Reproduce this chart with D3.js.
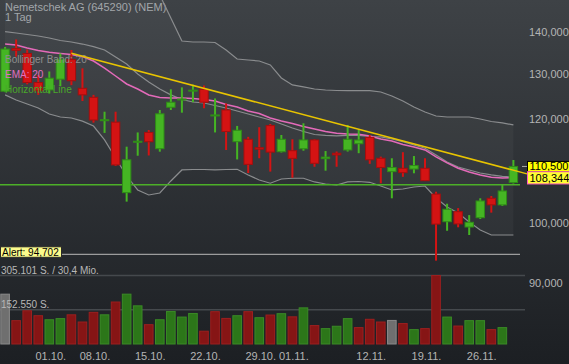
<!DOCTYPE html>
<html><head><meta charset="utf-8">
<script src="https://cdn.jsdelivr.net/npm/d3@7"></script>
<style>html,body{margin:0;padding:0;background:#2b2e32;overflow:hidden}svg{display:block}</style>
</head><body><svg id="c" width="569" height="364"></svg>
<script>
const dates = ["25.09.","26.09.","27.09.","28.09.","01.10.","02.10.","04.10.","05.10.","08.10.","09.10.","10.10.","11.10.","12.10.","15.10.","16.10.","17.10.","18.10.","19.10.","22.10.","23.10.","24.10.","25.10.","26.10.","29.10.","30.10.","31.10.","01.11.","02.11.","05.11.","06.11.","07.11.","08.11.","09.11.","12.11.","13.11.","14.11.","15.11.","16.11.","19.11.","20.11.","21.11.","22.11.","23.11.","26.11.","27.11.","28.11.","29.11."];
const open = [126.10,135.90,134.75,128.05,126.38,128.80,133.30,126.75,124.76,119.80,119.44,105.53,115.35,117.30,114.00,122.60,124.20,126.15,126.53,120.75,122.02,115.41,115.90,114.20,118.72,113.40,113.60,113.99,115.76,112.02,113.10,113.74,115.00,116.30,112.10,109.50,110.14,110.00,110.14,105.27,100.28,102.07,99.35,100.99,104.49,103.29,107.42];
const high = [136.30,138.10,135.70,129.75,130.56,134.75,135.57,131.28,125.30,121.65,121.65,114.40,117.30,117.80,122.02,126.53,126.96,127.58,127.36,124.52,123.44,118.65,116.40,118.38,119.06,116.77,115.90,119.20,115.90,113.53,113.43,118.85,117.81,116.77,112.42,112.10,113.30,112.54,112.10,105.70,103.50,102.70,101.45,104.49,104.91,106.95,111.76];
const low = [125.90,134.00,127.65,125.30,125.60,127.20,127.46,123.96,119.33,117.20,110.60,103.88,112.60,112.65,113.40,122.02,121.44,123.70,122.40,117.30,113.74,111.87,109.23,112.10,109.50,113.24,108.33,113.60,110.44,109.68,110.44,113.43,113.10,111.00,107.28,104.49,108.50,109.18,107.70,93.65,98.70,99.30,97.97,100.76,101.89,103.11,107.23];
const close = [135.80,135.50,128.05,126.22,129.03,133.38,128.45,125.30,119.89,119.95,110.80,111.80,115.50,115.40,121.20,123.69,124.40,126.35,123.70,120.96,117.50,117.75,110.90,113.90,113.32,115.90,112.08,115.76,111.11,112.33,112.76,115.90,115.75,111.80,110.30,110.30,109.30,110.68,107.77,99.86,102.50,99.89,100.18,104.00,103.29,105.84,110.50];
const volume = [222000,104000,148000,126000,108000,113000,130000,98000,141000,130000,187000,222000,170000,86000,108000,145000,120000,136000,57000,144000,114000,126000,144000,117000,129000,135000,121000,161000,82000,68500,79000,113000,73000,110000,98000,105000,91000,64000,68500,305101,120000,80000,104000,104000,64000,73000,null];
const bbUpper = [154.70,155.18,155.31,155.45,155.76,155.18,154.67,154.34,154.16,155.39,155.65,155.90,153.93,151.24,149.32,143.41,137.73,137.49,137.49,137.37,135.57,133.44,133.21,132.98,132.06,129.07,127.51,127.06,126.60,126.38,126.27,126.22,126.22,126.22,125.94,125.05,123.96,122.66,121.59,120.73,120.52,120.52,120.52,120.10,119.58,119.27,118.85];
const bbMiddle = [140.00,139.68,139.31,138.95,138.46,137.85,137.49,137.00,136.39,135.57,133.90,132.28,129.98,128.17,126.60,125.30,124.29,123.74,123.53,122.99,122.45,121.80,121.16,120.52,119.89,119.05,118.22,117.50,116.88,116.68,116.58,116.68,116.68,116.47,116.37,115.96,115.41,114.74,114.08,112.75,111.37,110.40,109.82,109.24,108.86,108.58,108.43];
const bbLower = [125.30,124.18,123.31,122.45,121.16,120.52,120.31,119.66,118.62,115.76,112.15,108.66,106.03,105.10,105.47,107.72,109.82,109.91,109.91,109.82,109.91,109.95,108.86,107.91,107.29,108.09,108.23,108.23,107.53,107.15,106.96,107.53,107.62,107.47,106.77,106.03,106.21,106.58,106.77,104.55,102.90,101.83,100.24,98.84,97.97,97.97,97.97];
const ema20 = [137.00,136.76,136.04,135.45,135.03,134.75,134.51,134.00,132.98,131.35,129.52,127.72,126.60,125.28,124.73,124.62,124.62,124.51,124.29,123.96,123.20,122.66,121.80,121.27,120.31,119.68,119.16,118.54,118.02,117.50,117.13,116.99,116.93,116.58,115.96,115.55,114.84,114.34,113.74,112.36,111.18,110.15,109.43,108.86,108.42,108.29,108.344];
const trendDates = ["04.10.","29.11."];
const trendValues = [134.80,109.76];
const horizontalValue = 107.0;
const alertValue = 94.702;
const priceTicks = [90,100,120,130,140];
const dateTicks = ["01.10.","08.10.","15.10.","22.10.","29.10.","01.11.","12.11.","19.11.","26.11."];
const volLabels = ["305.101 S. / 30,4 Mio.","152.550 S."];
const volLevels = [305101,152550];
const title = "Nemetschek AG (645290) (NEM)";
const subtitle = "1 Tag";
const legendItems = ["Bollinger Band: 20","EMA: 20","Horizontal Line"];

const de=d3.formatLocale({decimal:",",thousands:".",grouping:[3],currency:["","€"]});
const fmt=de.format(".3f");
const W=569,H=364, FONT="Liberation Sans, Arial, sans-serif";
const svg=d3.select("#c");
const defs=svg.append("defs");
const g=defs.append("linearGradient").attr("id","bg").attr("x1",0).attr("y1",0).attr("x2",0).attr("y2",1);
g.append("stop").attr("offset","0%").attr("stop-color","#3e4246");
g.append("stop").attr("offset","100%").attr("stop-color","#1c1f23");
svg.append("rect").attr("width",W).attr("height",H).attr("fill","url(#bg)");

const x=d3.scalePoint().domain(dates).range([5.1,513.4]);
const y=d3.scaleLog().domain([90,140]).range([283.3,31.7]);
const yv=d3.scaleLinear().domain([0,305101]).range([344,275.5]);
const idx=d3.range(dates.length);
const X=i=>x(dates[i]);

// bollinger fill
svg.append("path").datum(idx)
  .attr("d",d3.area().x(X).y0(i=>y(bbLower[i])).y1(i=>y(bbUpper[i])))
  .attr("fill","rgba(255,255,255,0.035)");

// volume grid lines
svg.selectAll(".vg").data(volLevels).join("line")
  .attr("x1",0).attr("x2",525).attr("y1",d=>yv(d)).attr("y2",d=>yv(d))
  .attr("stroke","#45494d").attr("stroke-width",1.5);

// title
svg.append("text").attr("x",5).attr("y",10.5).attr("fill","#a2a6aa").attr("font-family",FONT).attr("font-size",11).text(title);
svg.append("text").attr("x",5).attr("y",21).attr("fill","#a2a6aa").attr("font-family",FONT).attr("font-size",11).text(subtitle);

// volume bars
const volColor=i=> i===0||close[i]===close[i-1] ? ["#6f6f6f","#8a8a8a"] : close[i]>close[i-1] ? ["#2c7619","#3a8a26"] : ["#861515","#9c1f1f"];
svg.selectAll(".vb").data(idx.filter(i=>volume[i]!=null)).join("rect")
  .attr("x",i=>X(i)-4.3).attr("width",8.6)
  .attr("y",i=>yv(volume[i])).attr("height",i=>344-yv(volume[i]))
  .attr("fill",i=>volColor(i)[0]).attr("stroke",i=>volColor(i)[1]).attr("stroke-width",1);

// volume labels
svg.selectAll(".vl").data(volLevels).join("text")
  .attr("x",1).attr("y",d=>yv(d)-2).attr("fill","#b8b8b8")
  .attr("font-family",FONT).attr("font-size",10).text((d,i)=>volLabels[i]);

// bands and ema
const line=arr=>d3.line().x(X).y(i=>y(arr[i]));
[bbUpper,bbMiddle,bbLower].forEach(a=>{
  svg.append("path").datum(idx).attr("d",line(a)).attr("fill","none").attr("stroke","#8a8c8e").attr("stroke-width",1.2);
});
svg.append("path").datum(idx).attr("d",line(ema20)).attr("fill","none").attr("stroke","#e36ab9").attr("stroke-width",1.5);

// horizontal line & alert
svg.append("line").attr("x1",0).attr("x2",520).attr("y1",y(horizontalValue)).attr("y2",y(horizontalValue))
  .attr("stroke","#4caf28").attr("stroke-width",1.5);
svg.append("line").attr("x1",0).attr("x2",520).attr("y1",y(alertValue)).attr("y2",y(alertValue))
  .attr("stroke","#9c9c9c").attr("stroke-width",1.2);

// candles
const up=i=>close[i]>=open[i];
const cg=svg.append("g");
cg.selectAll(".w").data(idx).join("line")
  .attr("x1",X).attr("x2",X).attr("y1",i=>y(high[i])).attr("y2",i=>y(low[i]))
  .attr("stroke",i=>up(i)?"#45b523":"#d41313").attr("stroke-width",2);
cg.selectAll(".b").data(idx).join("rect")
  .attr("x",i=>X(i)-4.2).attr("width",8.4)
  .attr("y",i=>Math.min(y(open[i]),y(close[i])))
  .attr("height",i=>Math.max(1,Math.abs(y(open[i])-y(close[i]))))
  .attr("fill",i=>up(i)?"#45b523":"#d41313")
  .attr("stroke",i=>up(i)?"#2f8c17":"#a50e0e").attr("stroke-width",1);

// legend (drawn over the candles)
const legColors=["#8e8e8e","#e070c0","#4aa82a"];
const legY=[63.3,78,92.7];
svg.selectAll(".leg").data(legendItems).join("text")
  .attr("x",5).attr("y",(d,i)=>legY[i]).attr("fill",(d,i)=>legColors[i])
  .attr("font-family",FONT).attr("font-size",10).text(d=>d);

// trend line extended to x=527
const tx0=x(trendDates[0]), ty0=y(trendValues[0]), tx1=x(trendDates[1]), ty1=y(trendValues[1]);
const slope=(ty1-ty0)/(tx1-tx0);
svg.append("line").attr("x1",tx0).attr("y1",ty0).attr("x2",527).attr("y2",ty0+slope*(527-tx0))
  .attr("stroke","#e8c400").attr("stroke-width",1.5);

// price axis
svg.selectAll(".pt").data(priceTicks).join("text")
  .attr("x",529).attr("y",d=>y(d)+4).attr("fill","#b4b4b4")
  .attr("font-family",FONT).attr("font-size",11).text(d=>fmt(d));

// date axis
svg.selectAll(".dt").data(dateTicks).join("text")
  .attr("x",d=>x(d)+1.5).attr("y",360).attr("text-anchor","middle").attr("fill","#b4b4b4")
  .attr("font-family",FONT).attr("font-size",11).text(d=>d);

// alert label
const ay=y(alertValue);
svg.append("rect").attr("x",0.5).attr("y",ay-7.5).attr("width",61).attr("height",10.5)
  .attr("fill","#fbfb8c").attr("stroke","#2a2a2a").attr("stroke-width",1);
svg.append("text").attr("x",2).attr("y",ay+1.5).attr("fill","#000").attr("font-family",FONT).attr("font-size",10)
  .text("Alert: "+fmt(alertValue));

// last price labels
const last=close[close.length-1], lastEma=ema20[ema20.length-1];
svg.append("line").attr("x1",522).attr("x2",527).attr("y1",y(last)).attr("y2",y(last)).attr("stroke","#aaa");
svg.append("rect").attr("x",527.5).attr("y",y(last)-5).attr("width",43).attr("height",10.3)
  .attr("fill","#ffff00").attr("stroke","#000").attr("stroke-width",1);
svg.append("text").attr("x",529.5).attr("y",y(last)+4).attr("fill","#000").attr("font-family",FONT).attr("font-size",11)
  .text(fmt(last));
svg.append("rect").attr("x",527.5).attr("y",y(last)+5.3).attr("width",43).attr("height",12.2)
  .attr("fill","#ffff33").attr("stroke","#ff5cbf").attr("stroke-width",1);
svg.append("text").attr("x",529.5).attr("y",y(lastEma)+4).attr("fill","#000").attr("font-family",FONT).attr("font-size",11)
  .text(fmt(lastEma));
</script></body></html>
